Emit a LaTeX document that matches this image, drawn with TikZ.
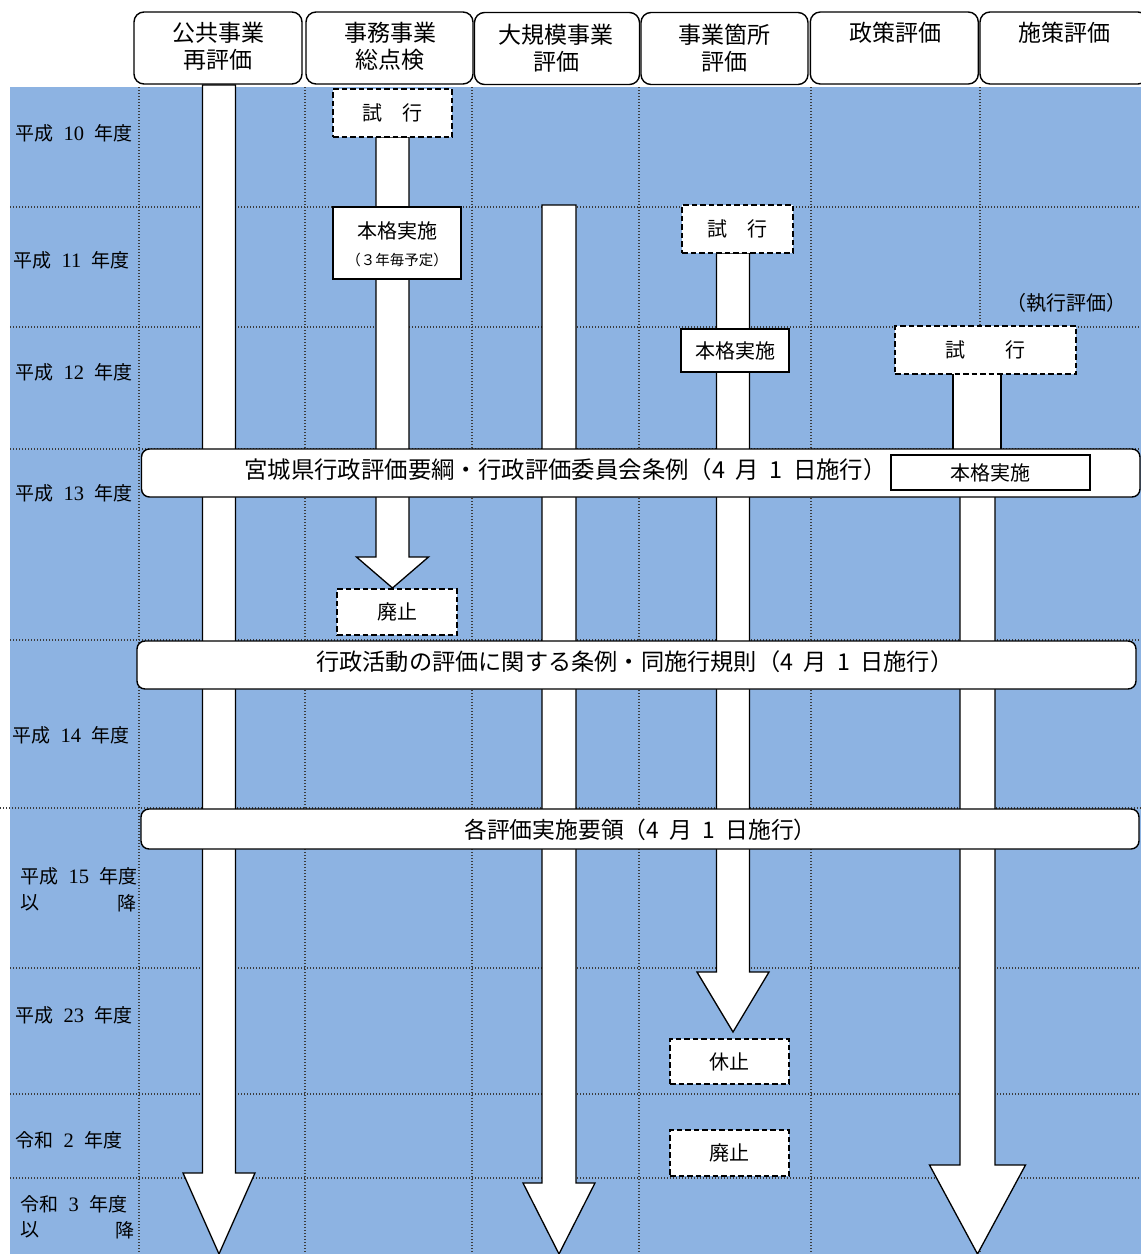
\documentclass[tikz,border=0pt]{standalone}
\usepackage{fontspec}
\newfontfamily\jp{Noto Sans CJK JP}
\newfontfamily\serdig{Liberation Serif}
\usetikzlibrary{calc}
\definecolor{bgblue}{RGB}{141,179,226}
\definecolor{gridc}{RGB}{60,60,60}
\newcommand\hs{\hspace{0.45em}}
\newcommand\ys{\hspace{0.55em}}
\newcommand\dg[1]{{\serdig\fontsize{20.5}{23}\selectfont #1}}
% #1 start coordinate, #2 tip coordinate, #3 half bar width, #4 half head width, #5 head length
\newcommand\fatarrow[5]{%
  \draw[fatbody] let \p1=(#1), \p2=(#2) in
    (\x1-#3pt,\y1) -- (\x1-#3pt,\y2+#5pt) -- (\x1-#4pt,\y2+#5pt) -- (\x2,\y2)
    -- (\x1+#4pt,\y2+#5pt) -- (\x1+#3pt,\y2+#5pt) -- (\x1+#3pt,\y1) -- cycle;}
\begin{document}
\begin{tikzpicture}[x=1pt,y=-1pt,
  hdr/.style={draw,line width=1.4pt,rounded corners=10pt,fill=white,inner sep=0pt},
  solidbox/.style={draw,line width=1.4pt,fill=white,inner sep=0pt,font=\jp\fontsize{20}{24}\selectfont},
  dashbox/.style={draw,line width=1.4pt,dash pattern=on 5.5pt off 3pt,fill=white,inner sep=0pt,font=\jp\fontsize{20}{24}\selectfont},
  bandbox/.style={draw,line width=1.4pt,rounded corners=8pt,fill=white,inner sep=0pt},
  gridline/.style={draw=gridc,line width=1.1pt,dash pattern=on 1.2pt off 1.8pt},
  fatbody/.style={draw,line width=1.3pt,fill=white,line join=miter},
  hdrtxt/.style={inner sep=0pt,align=center,font=\jp\fontsize{23}{27}\selectfont},
  bandtxt/.style={inner sep=0pt,anchor=west,font=\jp\fontsize{23}{27}\selectfont},
  boxtxt/.style={inner sep=0pt,font=\jp\fontsize{20}{24}\selectfont},
  yeartxt/.style={inner sep=0pt,anchor=west,font=\jp\fontsize{19}{23}\selectfont},
]
\useasboundingbox (0,0) rectangle (1141,1254);
\clip (0,0) rectangle (1141,1254);
% background
\fill[bgblue] (10,87) rectangle (1141,1254);
% grid
\foreach \x in {139,305,472,639,811,980} \draw[gridline] (\x,87) -- (\x,1254);
\foreach \y in {207,327,449,640,968,1094,1178} \draw[gridline] (10,\y) -- (1141,\y);
\draw[gridline] (0,808) -- (1141,808);

% header boxes
\node[hdr,minimum width=168pt,minimum height=72pt] (h1) at (218,48) {};
\node[hdr,minimum width=167pt,minimum height=72pt] (h2) at (389.5,48) {};
\node[hdr,minimum width=165pt,minimum height=72pt] (h3) at (557,48.5) {};
\node[hdr,minimum width=167pt,minimum height=72pt] (h4) at (724.5,48.5) {};
\node[hdr,minimum width=168pt,minimum height=72pt] (h5) at (894.3,48) {};
\node[hdr,minimum width=168pt,minimum height=72pt] (h6) at (1064,48) {};
\node[hdrtxt] (h1t) at (218,46.5) {公共事業\\再評価};
\node[hdrtxt] (h2t) at (390,46.5) {事務事業\\総点検};
\node[hdrtxt] (h3t) at (556,48) {大規模事業\\評価};
\node[hdrtxt] (h4t) at (724,48) {事業箇所\\評価};
\node[hdrtxt] (h5t) at (895,33) {政策評価};
\node[hdrtxt] (h6t) at (1064,33) {施策評価};

% year labels
\node[yeartxt] (y10) at (15,133) {平成\ys\dg{10}\ys 年度};
\node[yeartxt] (y11) at (13,260) {平成\ys\dg{11}\ys 年度};
\node[yeartxt] (y12) at (15,372) {平成\ys\dg{12}\ys 年度};
\node[yeartxt] (y13) at (15,493) {平成\ys\dg{13}\ys 年度};
\node[yeartxt] (y14) at (12,735) {平成\ys\dg{14}\ys 年度};
\node[yeartxt] (y15) at (20,876) {平成\ys\dg{15}\ys 年度};
\node[yeartxt] (y15a) at (20,903) {以};
\node[yeartxt,anchor=east] (y15b) at (137,903) {降};
\node[yeartxt] (y23) at (15,1015) {平成\ys\dg{23}\ys 年度};
\node[yeartxt] (r2) at (15,1140) {令和\ys\dg{2}\ys 年度};
\node[yeartxt] (r3) at (20,1204) {令和\ys\dg{3}\ys 年度};
\node[yeartxt] (r3a) at (20,1230) {以};
\node[yeartxt,anchor=east] (r3b) at (135,1230) {降};

% arrow end points
\coordinate (a1s) at (219,85);    \coordinate (a1e) at (219,1254);
\coordinate (a2s) at (392.5,137); \coordinate (a2e) at (392.5,588);
\coordinate (a3s) at (559,205);   \coordinate (a3e) at (559,1254);
\coordinate (a4s) at (733,253);   \coordinate (a4e) at (733,1032);
\coordinate (a5s) at (977.5,480); \coordinate (a5e) at (977.5,1254);
\fatarrow{a1s}{a1e}{16.5}{36}{81}
\fatarrow{a2s}{a2e}{16.5}{36}{31}
\fatarrow{a3s}{a3e}{17}{36}{71}
\fatarrow{a4s}{a4e}{16.5}{36}{60}
\fatarrow{a5s}{a5e}{17.5}{48}{89}
\draw[fatbody] (953,373) rectangle (1001,456);

% boxes
\node[dashbox,minimum width=119pt,minimum height=48pt] (t2) at (392.5,113) {試　行};
\node[solidbox,minimum width=128pt,minimum height=72pt] (m2) at (397,243) {};
\node[boxtxt] (m2a) at (397,231) {本格実施};
\node[boxtxt,font=\jp\fontsize{14.5}{17}\selectfont] (m2b) at (397,260) {（３年毎予定）};
\node[dashbox,minimum width=111pt,minimum height=48pt] (t4) at (737.5,229) {試　行};
\node[solidbox,minimum width=108pt,minimum height=43pt] (m4) at (735,350.5) {本格実施};
\node[boxtxt,font=\jp\fontsize{20}{24}\selectfont] (exec) at (1066,303) {（執行評価）};
\node[dashbox,minimum width=181pt,minimum height=48pt] (t5) at (985.5,350) {試　　行};

% band 1
\node[bandbox,minimum width=998.5pt,minimum height=48pt] (b1) at (640.75,473) {};
\node[bandtxt,font=\jp\fontsize{23.4}{27}\selectfont] (b1t) at (244,470) {宮城県行政評価要綱・行政評価委員会条例（4\hs 月\hs 1\hs 日施行）};
\node[solidbox,minimum width=199pt,minimum height=35pt] (m5) at (990.5,472.5) {本格実施};

\node[dashbox,minimum width=120pt,minimum height=46pt] (x2) at (397,612) {廃止};

% band 2
\node[bandbox,minimum width=999pt,minimum height=48pt] (b2) at (636.5,665) {};
\node[bandtxt,font=\jp\fontsize{23.2}{27}\selectfont] (b2t) at (316,662) {行政活動の評価に関する条例・同施行規則（4\hs 月\hs 1\hs 日施行）};

% band 3
\node[bandbox,minimum width=998pt,minimum height=40pt] (b3) at (640,829) {};
\node[bandtxt,font=\jp\fontsize{22.8}{27}\selectfont] (b3t) at (464,830) {各評価実施要領（4\hs 月\hs 1\hs 日施行）};

\node[dashbox,minimum width=119pt,minimum height=45pt] (k4) at (729.5,1061.5) {休止};
\node[dashbox,minimum width=119pt,minimum height=46pt] (x4) at (729.5,1153) {廃止};
\end{tikzpicture}
\end{document}
